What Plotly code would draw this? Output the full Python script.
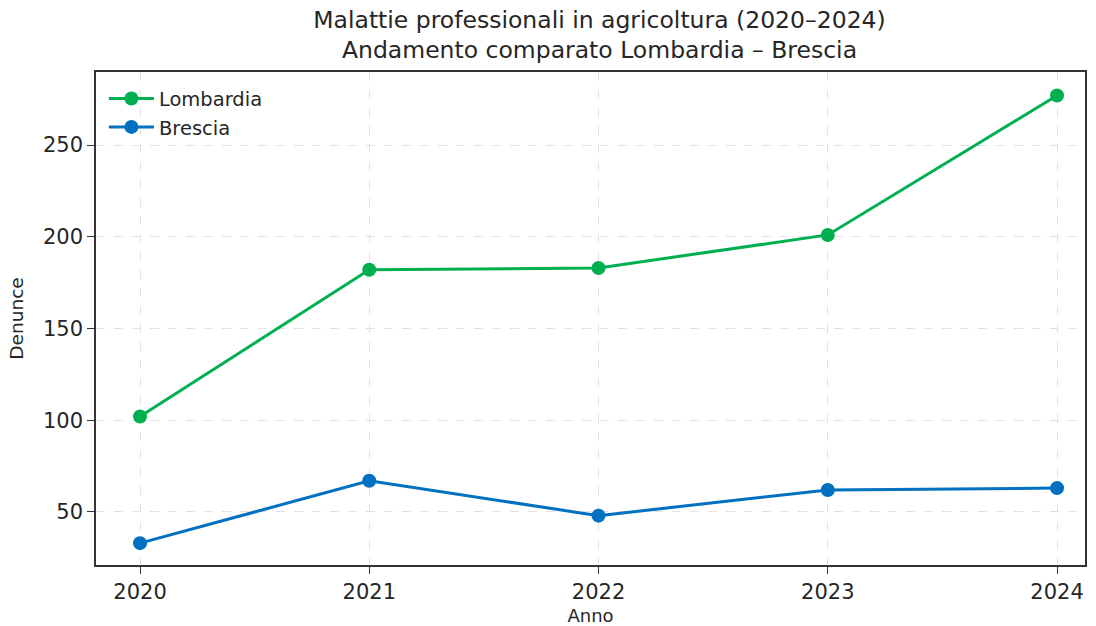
import plotly.graph_objects as go

anni = [2020, 2021, 2022, 2023, 2024]
lombardia = [102, 182, 183, 201, 277]
brescia = [33, 67, 48, 62, 63]
y_ticks = [50, 100, 150, 200, 250]

FONT = "DejaVu Sans"
fig = go.Figure()
fig.add_trace(go.Scatter(x=anni, y=lombardia, name="Lombardia", mode="lines+markers",
                         line=dict(color="#00b050", width=3), marker=dict(size=14, color="#00b050")))
fig.add_trace(go.Scatter(x=anni, y=brescia, name="Brescia", mode="lines+markers",
                         line=dict(color="#0070c0", width=3), marker=dict(size=14, color="#0070c0")))

fig.update_layout(
    width=1096, height=626,
    margin=dict(l=96, r=11, t=72, b=61, autoexpand=False),
    paper_bgcolor="white", plot_bgcolor="white",
    font=dict(family=FONT, color="#262626"),
    title=dict(text="Malattie professionali in agricoltura (2020–2024)<br>Andamento comparato Lombardia – Brescia",
               x=0.547, xanchor="center", y=0.956, yanchor="top", font=dict(size=23.5, family=FONT, color="#262626")),
    legend=dict(x=0.008, y=0.985, xanchor="left", yanchor="top", bgcolor="rgba(255,255,255,0)",
                font=dict(size=19.5, family=FONT), itemwidth=45, tracegroupgap=0),
    showlegend=True,
)
fig.update_xaxes(range=[2019.808, 2024.122], tickvals=anni, ticktext=[str(a) for a in anni],
                 showline=True, linecolor="#333", linewidth=1.5, mirror=True, automargin=False,
                 ticks="outside", ticklen=7, tickcolor="#333",
                 showgrid=True, gridcolor="#e2e2e2", griddash="dash", zeroline=False,
                 tickfont=dict(size=21), title=dict(text="Anno", font=dict(size=18), standoff=20))
fig.update_yaxes(range=[21.1, 289.8], tickvals=y_ticks,
                 showline=True, linecolor="#333", linewidth=1.5, mirror=True, automargin=False,
                 ticks="outside", ticklen=7, tickcolor="#333",
                 showgrid=True, gridcolor="#e2e2e2", griddash="dash", zeroline=False,
                 tickfont=dict(size=21), title=dict(text="Denunce", font=dict(size=18.5), standoff=14))

fig.write_html("out.html", config={"displayModeBar": False},
               post_script="document.body.style.margin='0';")
